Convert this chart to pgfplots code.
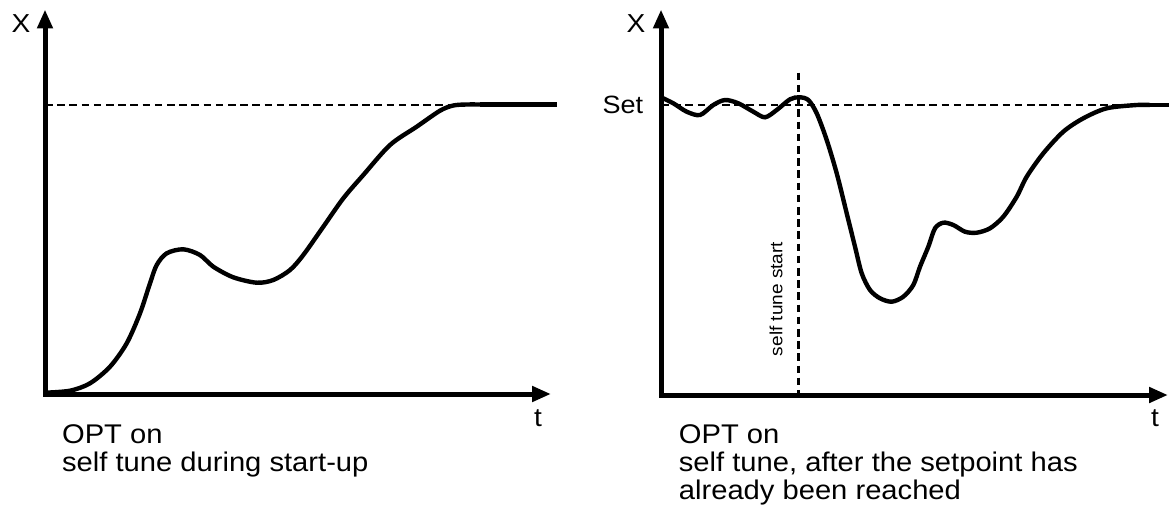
\documentclass[border=0pt]{standalone}
\usepackage{pgfplots}
\pgfplotsset{compat=1.18}
\usepackage{fontspec}
\setmainfont{Liberation Sans}[FakeStretch=1.08]
\usetikzlibrary{arrows.meta}
\begin{document}
\begin{tikzpicture}
\begin{axis}[
  width=585pt, height=254pt, scale only axis,
  xmin=0, xmax=1170, ymin=0, ymax=508,
  y dir=reverse, hide axis, clip=false,
]
% axes
\addplot[line width=2.5pt, {Triangle[width=7.5pt,length=9.5pt]}-{Triangle[width=7.5pt,length=9.5pt]}]
  coordinates {(45,9.5) (45,394) (551,394)};
\addplot[line width=2.5pt, {Triangle[width=7.5pt,length=9.5pt]}-{Triangle[width=7.5pt,length=9.5pt]}]
  coordinates {(661,9.5) (661,395) (1168,395)};
% dashed references
\addplot[line width=1.2pt, dash pattern=on 3.8pt off 2.3pt] coordinates {(45,105) (453,105)};
\addplot[line width=1.2pt, dash pattern=on 3.8pt off 2.3pt] coordinates {(661,105) (1141,105)};
\addplot[line width=1.2pt, dash pattern=on 3.8pt off 2.3pt] coordinates {(798.5,72.7) (798.5,400)};
% left curve
\addplot[line width=2.2pt, smooth, tension=0.5] coordinates {
(45,392.7) (70,390.7) (90,383.3) (110,366.7) (126.7,343.3) (140,313.3)
(150,283.3) (156.7,265) (166.7,253.3) (183.3,249.3) (200,255) (213.3,266.7)
(233.3,277.3) (256.7,282.7) (273.3,280) (290,270) (303.3,255) (323.3,226.7)
(343.3,198.3) (363.3,175) (390,145) (416.7,126.7) (440,110.7) (453.3,105.5)
(466.7,104.5) (480,104.5)};
\addplot[line width=2.2pt] coordinates {(480,104.5) (557,104.5)};
% right curve
\addplot[line width=2.2pt, smooth, tension=0.5] coordinates {
(661,97.3) (673.3,103.3) (686.7,111.7) (700,115) (713.3,105) (725,100)
(738.3,103.3) (753.3,111.7) (765,117.3) (776.7,110) (790,99.3) (799.3,97.3)
(808.3,100) (816.7,113.3) (826.7,140) (836.7,173.3) (846.7,213.3) (855,246.7)
(861.7,273.3) (870,290) (880,298.3) (891.7,301.7) (903.3,296.7) (913.3,285)
(920,266.7) (928.3,246.7) (935,228.3) (943.3,222.7) (953.3,225) (965,231.7)
(976.7,232.7) (990,228.3) (1003.3,216.7) (1016.7,196.7) (1026.7,176.7)
(1043.3,153.3) (1063.3,131.7) (1083.3,118.3) (1106.7,108.3) (1136.7,105)
(1150,105)};
\addplot[line width=2.2pt] coordinates {(1150,105) (1169,105)};
% labels
\node[inner sep=0pt, font=\fontsize{13}{15}\selectfont] at (axis cs:21,24) {X};
\node[inner sep=0pt, font=\fontsize{13}{15}\selectfont] at (axis cs:636,24) {X};
\node[inner sep=0pt, font=\fontsize{13}{15}\selectfont] at (axis cs:538,418.5) {t};
\node[inner sep=0pt, font=\fontsize{13}{15}\selectfont] at (axis cs:1155,418.5) {t};
\node[inner sep=0pt, anchor=east, font=\fontsize{12.5}{14}\selectfont] at (axis cs:643.5,104.5) {Set};
\node[inner sep=0pt, rotate=90, font=\fontsize{8.8}{10}\selectfont] at (axis cs:776,299) {self tune start};
\node[inner sep=0pt, anchor=base west, font=\fontsize{13.5}{15}\selectfont] at (axis cs:61.7,443.3) {OPT on};
\node[inner sep=0pt, anchor=base west, font=\fontsize{13.5}{15}\selectfont] at (axis cs:61.7,471.7) {self tune during start-up};
\node[inner sep=0pt, anchor=base west, font=\fontsize{13.5}{15}\selectfont] at (axis cs:678.5,443.3) {OPT on};
\node[inner sep=0pt, anchor=base west, font=\fontsize{13.5}{15}\selectfont] at (axis cs:678.5,471.7) {self tune, after the setpoint has};
\node[inner sep=0pt, anchor=base west, font=\fontsize{13.5}{15}\selectfont] at (axis cs:678.5,499.5) {already been reached};
\end{axis}
\pgfresetboundingbox
\path (current axis.south west) rectangle (current axis.north east);
\end{tikzpicture}
\end{document}
